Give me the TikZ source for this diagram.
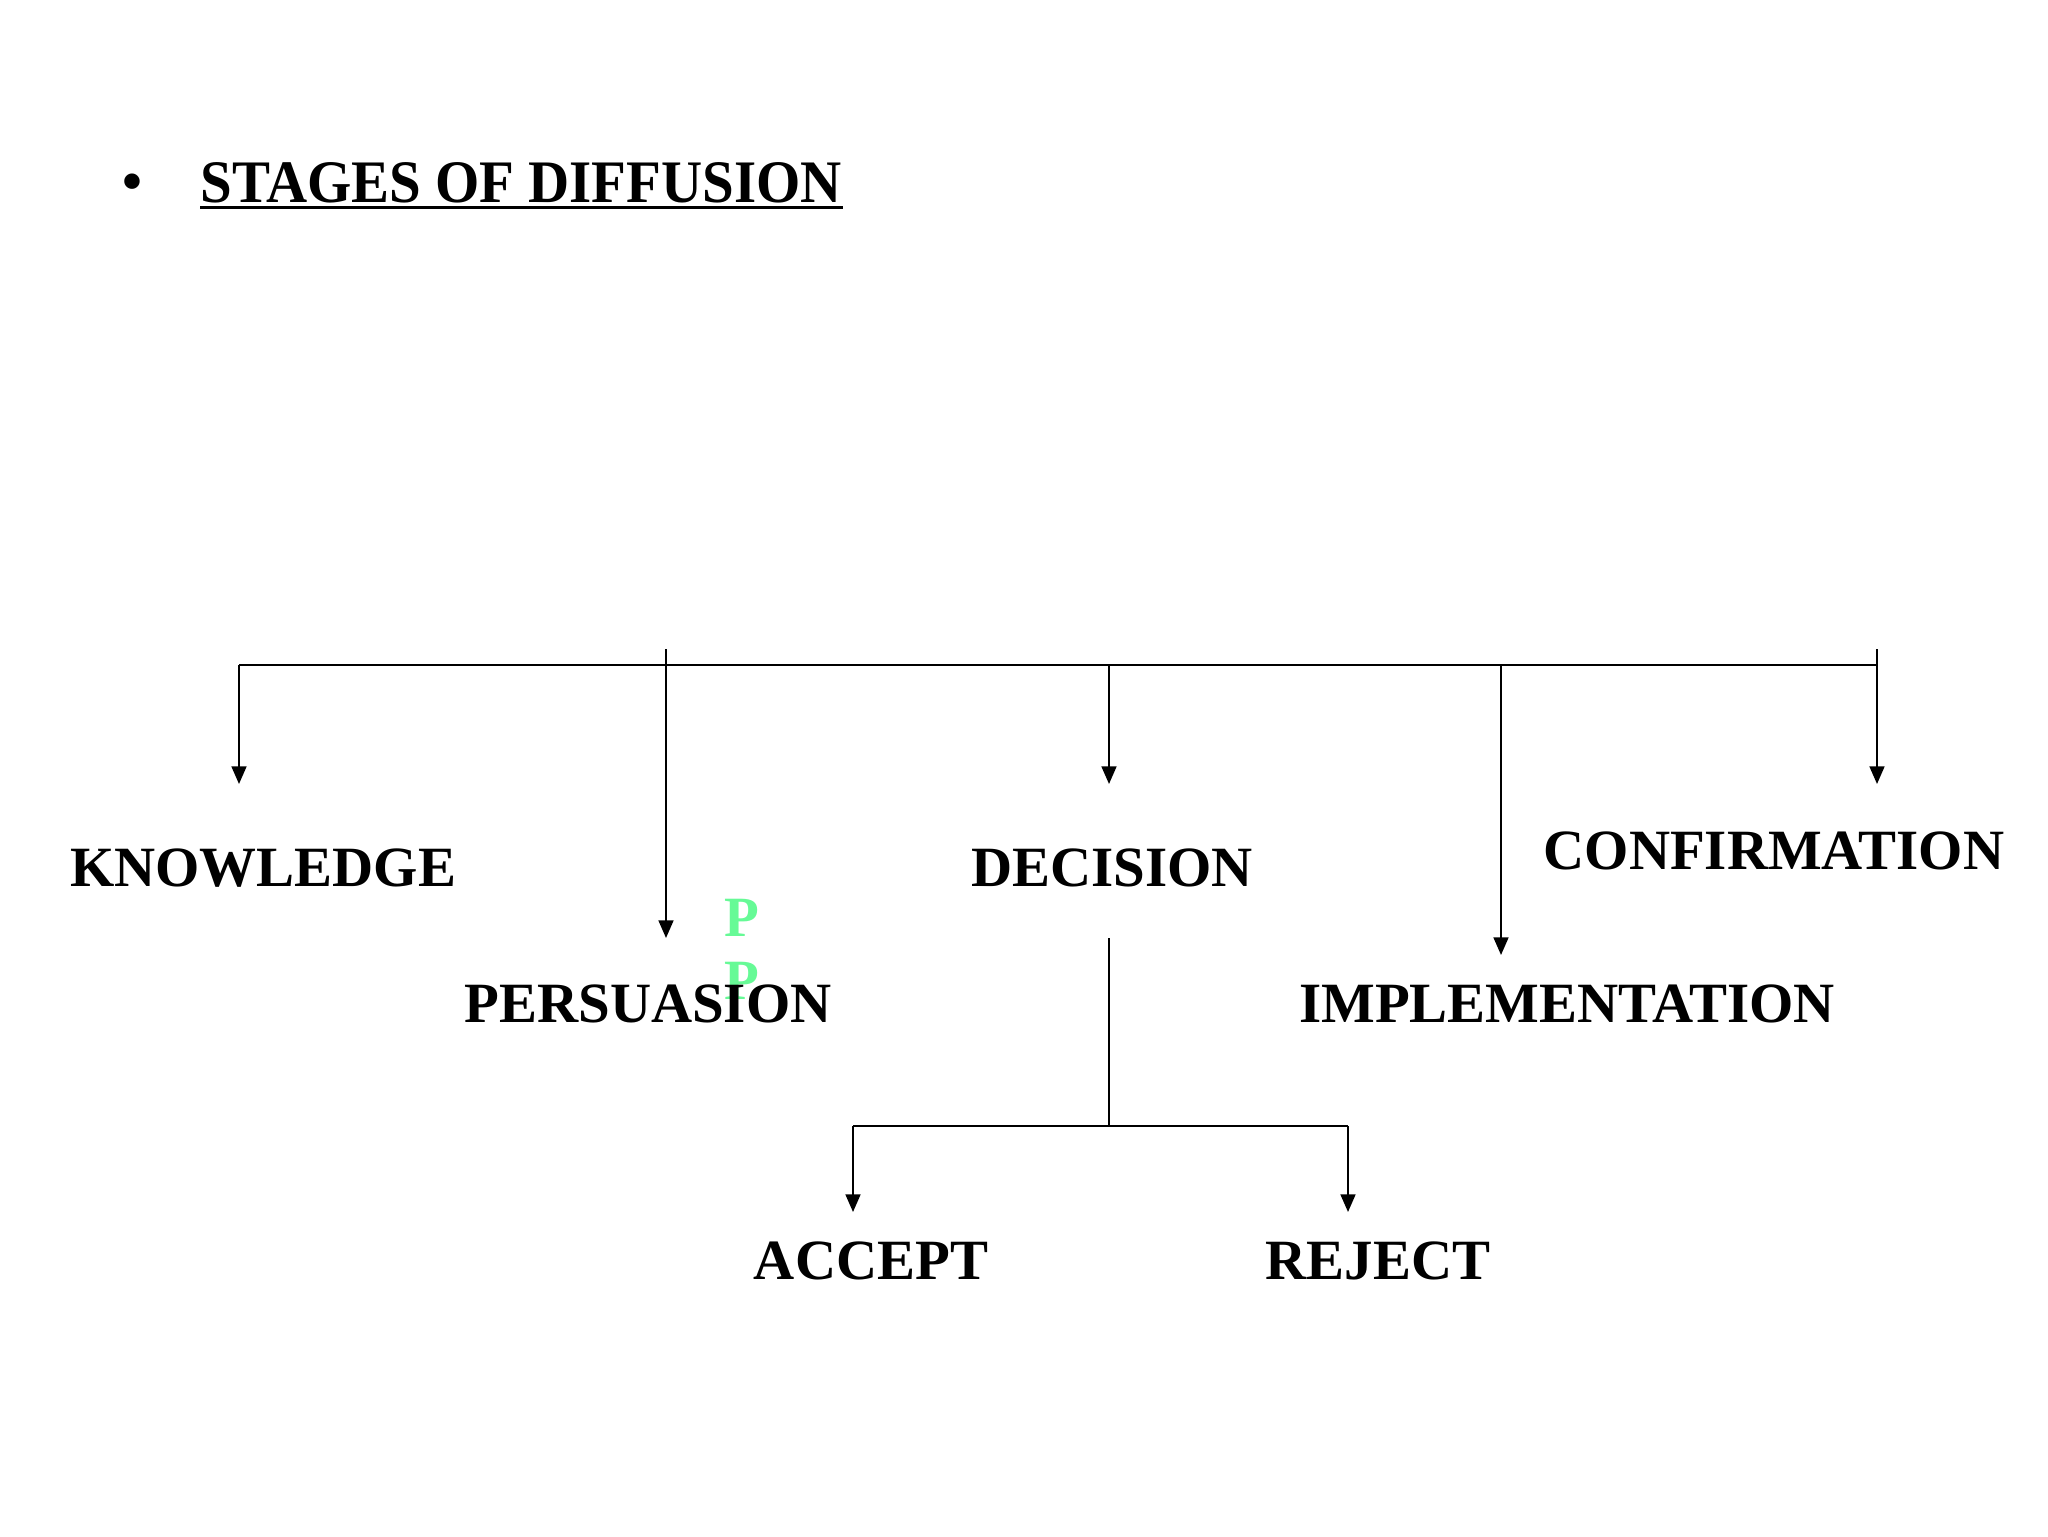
\documentclass[tikz,border=0pt]{standalone}
\usepackage{fontspec}
\setmainfont{Liberation Serif}
\usetikzlibrary{arrows.meta}
\definecolor{paleg}{RGB}{102,250,150}
\tikzset{
  lbl/.style={anchor=base,inner sep=0pt,font=\fontsize{16.2pt}{19pt}\selectfont\bfseries},
  conn/.style={line width=0.6pt},
  arr/.style={conn,-{Triangle[width=4.2pt,length=5pt]}}
}
\begin{document}
\begin{tikzpicture}[x=0.1mm,y=-0.1mm]
\useasboundingbox[fill=white] (0,0) rectangle (2048,1536);
% title
\node[lbl,anchor=base] (bul) at (132,200) {\textbullet};
\node[lbl,anchor=base west,yscale=1.06] (title) at (200,202) {STAGES OF DIFFUSION};
\draw[line width=0.9pt] ([yshift=-1.5pt]title.base west) -- ([yshift=-1.5pt]title.base east);
% labels
\node[lbl] (know) at (263,886) {KNOWLEDGE};
\node[lbl] (dec) at (1112,886) {DECISION};
\node[lbl] (conf) at (1774,869) {CONFIRMATION};
\node[lbl,text=paleg] (p1) at (742,936) {P};
\node[lbl,text=paleg] (p2) at (742,999) {P};
\node[lbl] (pers) at (648,1022) {PERSUASION};
\node[lbl] (impl) at (1567,1022) {IMPLEMENTATION};
\node[lbl] (acc) at (871,1279) {ACCEPT};
\node[lbl] (rej) at (1378,1279) {REJECT};
% coordinates
\coordinate (bl) at (239,665);
\coordinate (br) at (1877,665);
\coordinate (ptop) at (666,649);
\coordinate (ctop) at (1877,649);
\coordinate (dj) at (1109,665);
\coordinate (ij) at (1501,665);
\coordinate (kt) at (239,784);
\coordinate (pt) at (666,938);
\coordinate (dt) at (1109,784);
\coordinate (it) at (1501,955);
\coordinate (ct) at (1877,784);
\coordinate (ds) at (1109,938);
\coordinate (dm) at (1109,1126);
\coordinate (al) at (853,1126);
\coordinate (ar) at (1348,1126);
\coordinate (at) at (853,1212);
\coordinate (rt) at (1348,1212);
% connectors
\draw[conn] (bl) -- (br);
\draw[arr] (bl) -- (kt);
\draw[arr] (ptop) -- (pt);
\draw[arr] (dj) -- (dt);
\draw[arr] (ij) -- (it);
\draw[arr] (ctop) -- (ct);
\draw[conn] (ds) -- (dm);
\draw[conn] (al) -- (ar);
\draw[arr] (al) -- (at);
\draw[arr] (ar) -- (rt);
\end{tikzpicture}
\end{document}
